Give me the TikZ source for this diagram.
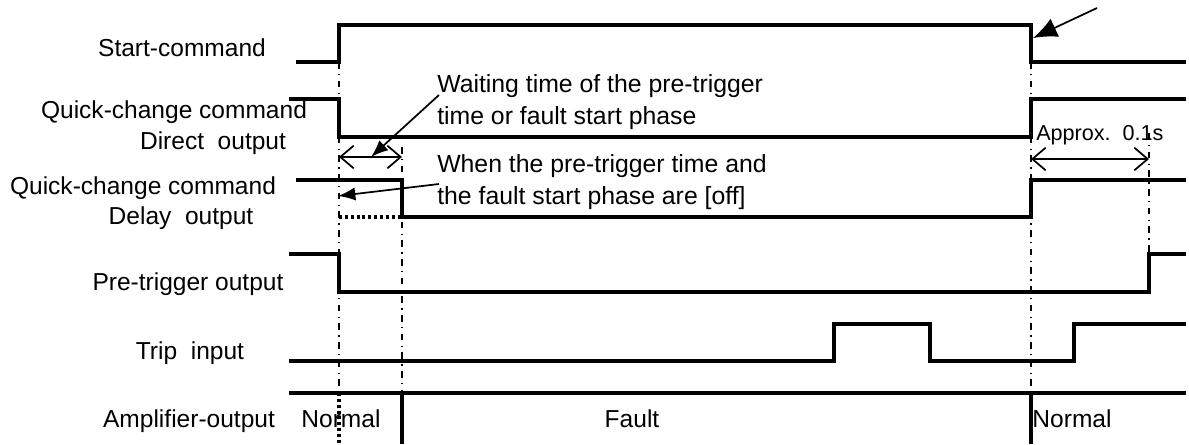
\documentclass[tikz,border=0pt]{standalone}
\usepackage{fontspec}
\setmainfont{Liberation Sans}
\usetikzlibrary{arrows.meta}

\begin{document}
\begin{tikzpicture}[x=0.75pt,y=-0.75pt,
    sig/.style={line width=2.4pt,line join=miter},
    guide/.style={line width=1pt,dash pattern=on 5pt off 4pt on 1pt off 4pt},
    offline/.style={line width=2.4pt,dash pattern=on 2.2pt off 2.2pt},
    lbl/.style={font=\fontsize{18.4}{22}\selectfont,anchor=base,inner sep=0pt},
    note/.style={font=\fontsize{18.6}{24}\selectfont,anchor=north west,
               align=left,inner sep=0pt},
    arr/.style={-{Latex[length=13pt,width=10pt]},line width=1.3pt},
    bigarr/.style={-{Latex[length=18pt,width=15pt]},line width=1.3pt},
    span/.style={{Straight Barb[length=10pt,width=17pt]}-{Straight Barb[length=10pt,width=17pt]},
               line width=1.3pt}
  ]
    \useasboundingbox (0,0) rectangle (1189,444);
    % signal names
    \node[lbl] (lstart) at (182,56)  {Start-command};
    \node[lbl] (lqc1)   at (174,118) {Quick-change command};
    \node[lbl] (ldir)   at (213,149) {Direct\ \ output};
    \node[lbl] (lqc2)   at (143,194) {Quick-change command};
    \node[lbl] (ldel)   at (181,224) {Delay\ \ output};
    \node[lbl] (lpre)   at (188,290) {Pre-trigger output};
    \node[lbl] (ltrip)  at (190,359) {Trip\ \ input};
    \node[lbl] (lamp)   at (189,427) {Amplifier-output};
    \node[lbl] (nrm1)   at (341,427) {Normal};
    \node[lbl] (flt)    at (632,427) {Fault};
    \node[lbl] (nrm2)   at (1072,427) {Normal};
    % notes
    \node[note] (wait) at (437,74)  {Waiting time of the pre-trigger\\time or fault start phase};
    \node[note] (off)  at (437,154) {When the pre-trigger time and\\the fault start phase are [off]};
    \node[lbl,anchor=base west,font=\fontsize{16.2}{20}\selectfont] (apx) at (1036,140) {Approx.\ \ 0.1s};
    % time marks
    \coordinate (tw) at (371,157);
    \coordinate (to) at (338,196);
    \coordinate (ts) at (1033,38);
    \coordinate (ta) at (339,157);
    \coordinate (tb) at (402,157);
    \coordinate (tc) at (1031,159);
    \coordinate (td) at (1149,159);
    % guide lines
    \draw[guide] (339,62) -- (339,393);
    \draw[guide] (402,147) -- (402,393);
    \draw[guide] (1031,62) -- (1031,393);
    \draw[guide] (1149,133) -- (1149,254);
    % signals
    \draw[sig] (296,62) -- (339,62) -- (339,25) -- (1031,25) -- (1031,62) -- (1186,62);
    \draw[sig] (289,99) -- (339,99) -- (339,137) -- (1031,137) -- (1031,99) -- (1186,99);
    \draw[sig] (296,180) -- (402,180) -- (402,217) -- (1031,217) -- (1031,180) -- (1186,180);
    \draw[offline] (339,217) -- (402,217);
    \draw[sig] (289,254) -- (339,254) -- (339,292) -- (1149,292) -- (1149,254) -- (1186,254);
    \draw[sig] (289,361) -- (834,361) -- (834,324) -- (930,324) -- (930,361)
               -- (1074,361) -- (1074,324) -- (1186,324);
    \draw[sig] (289,393) -- (1186,393);
    \draw[sig] (402,393) -- (402,444);
    \draw[sig] (1031,393) -- (1031,444);
    \draw[offline] (339,393) -- (339,444);
    % arrows
    \draw[arr] (439,95) -- (tw);
    \draw[arr] (439,184) -- (to);
    \draw[bigarr] (1097,8) -- (ts);
    \draw[span] (ta) -- (tb);
    \draw[span] (tc) -- (td);
  \end{tikzpicture}
\end{document}
